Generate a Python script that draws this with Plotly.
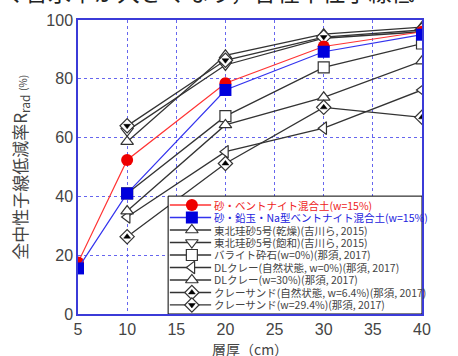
import plotly.graph_objects as go

# ---- data ----
x_all = [5, 10, 20, 30, 40]
x_blk = [10, 20, 30, 40]

red_name = "砂・ベントナイト混合土(w=15%)"
red_y = [17.5, 52.4, 78.5, 91.0, 96.0]
blue_name = "砂・鉛玉・Na型ベントナイト混合土(w=15%)"
blue_y = [15.5, 41.0, 76.2, 89.2, 95.0]

a_name = "東北珪砂5号(乾燥)(吉川ら, 2015)"
a_y = [58.6, 88.0, 95.2, 97.6]
b_name = "東北珪砂5号(飽和)(吉川ら, 2015)"
b_y = [62.3, 84.7, 93.8, 96.0]
c_name = "バライト砕石(w=0%)(那須, 2017)"
c_y = [41.0, 67.3, 83.9, 92.0]
d_name = "DLクレー(自然状態, w=0%)(那須, 2017)"
d_y = [33.0, 55.2, 63.2, 76.2]
e_name = "DLクレー(w=30%)(那須, 2017)"
e_y = [35.0, 64.3, 73.7, 86.0]
f_name = "クレーサンド(自然状態, w=6.4%)(那須, 2017)"
f_y = [26.3, 51.2, 70.3, 66.9]
g_name = "クレーサンド(w=29.4%)(那須, 2017)"
g_y = [64.0, 86.3, 94.2, 96.6]

x_ticks = [5, 10, 15, 20, 25, 30, 35, 40]
y_ticks = [0, 20, 40, 60, 80, 100]

BLK = "#333333"
AXC = "#3b3bd8"
GRID = "#6666ee"
TXT = "#444444"
RED_L, RED_M, RED_T = "#ff3333", "#ee0000", "#ee2222"
BLU_L, BLU_M, BLU_T = "#3333ee", "#0000dd", "#2222dd"

fig = go.Figure()

# series style table: (name, x, y, line colour, marker symbol, fill, overlay symbol, text colour, size)
series = [
    (red_name, x_all, red_y, RED_L, "circle", RED_M, None, RED_T, 12),
    (blue_name, x_all, blue_y, BLU_L, "square", BLU_M, None, BLU_T, 12),
    (a_name, x_blk, a_y, BLK, "triangle-up", "white", None, TXT, 11),
    (b_name, x_blk, b_y, BLK, "triangle-down", "white", None, TXT, 11),
    (c_name, x_blk, c_y, BLK, "square", "white", None, TXT, 11),
    (d_name, x_blk, d_y, BLK, "triangle-left", "white", None, TXT, 11),
    (e_name, x_blk, e_y, BLK, "triangle-up", "white", None, TXT, 11),
    (f_name, x_blk, f_y, BLK, "diamond", "white", "triangle-up", TXT, 11),
    (g_name, x_blk, g_y, BLK, "diamond", "white", "triangle-down", TXT, 11),
]

def marker_of(sym, fill, lc, size):
    if fill == "white":
        return dict(symbol=sym, size=size, color="white", line=dict(color=BLK, width=1.2))
    return dict(symbol=sym, size=size, color=fill, line=dict(width=0))

# data traces: black ones first, red/blue on top
for s in series[2:] + series[:2]:
    name, xs, ys, lc, sym, fill, ov, tc, size = s
    fig.add_trace(go.Scatter(
        x=xs, y=ys, name=name, mode="lines+markers", showlegend=False,
        line=dict(color=lc, width=1.3 if lc == BLK else 1.2),
        marker=marker_of(sym, fill, lc, size),
    ))
    if ov:
        fig.add_trace(go.Scatter(
            x=xs, y=ys, mode="markers", showlegend=False, hoverinfo="skip",
            marker=dict(symbol=ov, size=6, color="black", line=dict(color="black", width=0.5)),
        ))

# ---- compact legend drawn on an overlay axis (fractions of the plot area) ----
LX0, LX1, LY0, LY1 = 0.262, 1.0, 0.0, 0.401
ROW0, ROWSTEP = 0.3707, 0.0425
SEG0, SEGM, SEG1, TXT_X = 0.267, 0.331, 0.387, 0.390

fig.add_trace(go.Scatter(
    x=[LX0, LX1, LX1, LX0, LX0], y=[LY0, LY0, LY1, LY1, LY0],
    xaxis="x2", yaxis="y2", mode="lines", fill="toself", fillcolor="white",
    line=dict(color="black", width=1), showlegend=False, hoverinfo="skip",
))
annotations = []
for i, s in enumerate(series):
    name, xs, ys, lc, sym, fill, ov, tc, size = s
    ry = ROW0 - ROWSTEP * i
    fig.add_trace(go.Scatter(
        x=[SEG0, SEG1], y=[ry, ry], xaxis="x2", yaxis="y2", mode="lines",
        line=dict(color=lc, width=1.3), showlegend=False, hoverinfo="skip",
    ))
    fig.add_trace(go.Scatter(
        x=[SEGM], y=[ry], xaxis="x2", yaxis="y2", mode="markers",
        marker=marker_of(sym, fill, lc, size), showlegend=False, hoverinfo="skip",
    ))
    if ov:
        fig.add_trace(go.Scatter(
            x=[SEGM], y=[ry], xaxis="x2", yaxis="y2", mode="markers",
            marker=dict(symbol=ov, size=6, color="black", line=dict(color="black", width=0.5)),
            showlegend=False, hoverinfo="skip",
        ))
    annotations.append(dict(
        text=name, xref="paper", yref="paper", x=TXT_X, y=ry,
        xanchor="left", yanchor="middle", showarrow=False,
        font=dict(size=10.5, family="Noto Sans CJK JP", color=tc),
    ))

# y-axis title
annotations.append(dict(
    text="全中性子線低減率R<sub>rad</sub> <span style='font-size:10px'>(%)</span>",
    xref="paper", yref="paper", x=-0.169, y=0.5, textangle=-90,
    xanchor="center", yanchor="middle", showarrow=False,
    font=dict(size=17, family="Noto Sans CJK JP", color=TXT),
))
# x-axis title
annotations.append(dict(
    text="層厚（cm）", xref="paper", yref="paper", x=0.5, y=-0.079,
    xanchor="center", yanchor="top", showarrow=False,
    font=dict(size=14, family="Noto Sans CJK JP", color=TXT),
))
# clipped line of body text above the chart
annotations.append(dict(
    text="く含水率が大きくなり，各種中性子線低",
    xref="paper", yref="paper", x=-0.227, y=1.100,
    xanchor="left", yanchor="middle", showarrow=False,
    font=dict(size=23, family="Noto Sans CJK JP", color="#222222"),
))

fig.update_layout(
    width=458, height=356,
    margin=dict(l=78, r=36, t=20, b=42),
    paper_bgcolor="white", plot_bgcolor="white",
    font=dict(family="Liberation Sans, Arial, Noto Sans CJK JP", color=TXT),
    showlegend=False,
    xaxis=dict(
        range=[5, 40], tickvals=x_ticks, ticktext=[str(v) for v in x_ticks],
        showline=True, linecolor=AXC, linewidth=1.5, mirror=True,
        showgrid=True, gridcolor=GRID, griddash="dot", gridwidth=1,
        zeroline=False, ticks="", ticklabelstandoff=0, tickfont=dict(size=16, color=TXT),
    ),
    yaxis=dict(
        range=[0, 100], tickvals=y_ticks, ticktext=[str(v) for v in y_ticks],
        showline=True, linecolor=AXC, linewidth=1.5, mirror=True,
        showgrid=True, gridcolor=GRID, griddash="dot", gridwidth=1,
        zeroline=False, ticks="", tickfont=dict(size=16, color=TXT),
    ),
    xaxis2=dict(domain=[0, 1], range=[0, 1], overlaying="x", anchor="y2",
                visible=False, fixedrange=True),
    yaxis2=dict(domain=[0, 1], range=[0, 1], overlaying="y", anchor="x2",
                visible=False, fixedrange=True),
    annotations=annotations,
)

fig.write_html(
    "out.html",
    config={"displayModeBar": False},
    post_script="document.body.style.margin='0';document.body.style.overflow='hidden';",
)
